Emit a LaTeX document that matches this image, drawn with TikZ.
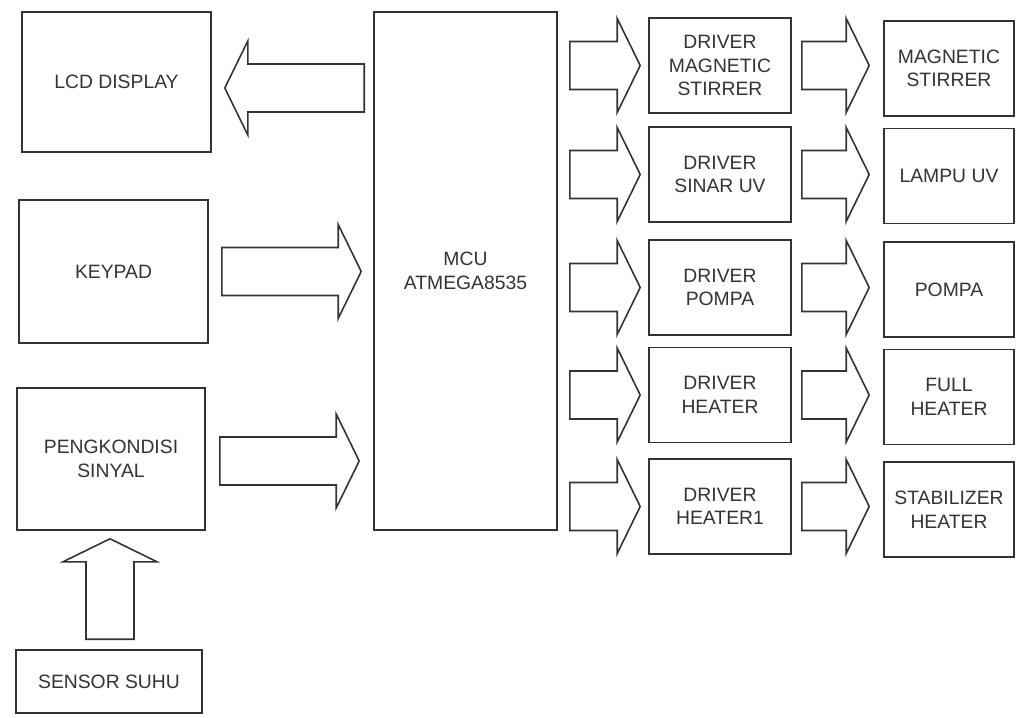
\documentclass[tikz,border=0pt]{standalone}
\usepackage{fontspec}
\setmainfont{Liberation Sans}
\usetikzlibrary{calc}
\definecolor{ink}{HTML}{333333}
\tikzset{
  % plain outlined block, text centred
  unit/.style  = {rectangle, draw=ink, line width=0.9pt, align=center, inner sep=3pt,
                  font=\fontsize{11}{13.4}\selectfont, text=ink},
  drv/.style   = {unit, minimum width=2.84cm, minimum height=1.90cm},
  dev/.style   = {unit, minimum width=2.60cm, minimum height=1.90cm},
  hollow/.style = {draw=ink, line width=0.9pt, line join=miter},
}
% outlined block arrow from #1 (tail) to #2 (tip)
\newcommand{\hollowarrow}[2]{%
  \draw[hollow] let \p1=#1, \p2=#2, \n1={atan2(\y2-\y1,\x2-\x1)},
      \n2={veclen(\x2-\x1,\y2-\y1)} in
    [shift={(\p1)}, rotate=\n1]
    (0pt,-0.48cm) -- (\n2-0.46cm,-0.48cm) -- (\n2-0.46cm,-0.94cm) -- (\n2,0pt)
    -- (\n2-0.46cm,0.94cm) -- (\n2-0.46cm,0.48cm) -- (0pt,0.48cm) -- cycle;}

\begin{document}
\begin{tikzpicture}[x=1cm,y=1cm]
\useasboundingbox (0,0) rectangle (20.32,14.34);
% left column
\node[unit, minimum width=3.78cm, minimum height=2.80cm] (lcd) at (2.33,12.70) {LCD DISPLAY};
\node[unit, minimum width=3.78cm, minimum height=2.86cm] (keypad) at (2.27,8.91) {KEYPAD};
\node[unit, minimum width=3.76cm, minimum height=2.84cm] (pengk) at (2.22,5.16) {PENGKONDISI\\SINYAL};
\node[unit, minimum width=3.72cm, minimum height=1.26cm] (sensor) at (2.18,0.71) {SENSOR SUHU};
% controller
\node[unit, minimum width=3.66cm, minimum height=10.36cm] (mcu) at (9.31,8.92) {MCU\\ATMEGA8535};
% drivers and loads
\foreach \n/\y/\txt in {drva/13.03/{DRIVER\\MAGNETIC\\STIRRER}, drvb/10.85/{DRIVER\\SINAR UV},
                        drvc/8.59/{DRIVER\\POMPA}, drvd/6.44/{DRIVER\\HEATER}, drve/4.21/{DRIVER\\HEATER1}}
  \node[drv] (\n) at (14.40,\y) {\txt};
\foreach \n/\y/\txt in {outa/12.97/{MAGNETIC\\STIRRER}, outb/10.82/{LAMPU UV},
                        outc/8.55/{POMPA}, outd/6.40/{FULL\\HEATER}, oute/4.15/{STABILIZER\\HEATER}}
  \node[dev] (\n) at (18.98,\y) {\txt};
% arrows
\hollowarrow{($(mcu.west|-lcd.east)+(-0.18,-0.12)$)}{($(lcd.east)+(0.26,-0.12)$)}
\hollowarrow{($(keypad.east)+(0.26,0)$)}{($(mcu.west|-keypad.east)+(-0.24,0)$)}
\hollowarrow{($(pengk.east)+(0.28,-0.04)$)}{($(mcu.west|-pengk.east)+(-0.28,-0.04)$)}
\hollowarrow{($(sensor.north)+(0.02,0.2)$)}{($(sensor.north|-pengk.south)+(0.02,-0.16)$)}
\foreach \d/\o in {drva/outa, drvb/outb, drvc/outc, drvd/outd, drve/oute} {
  \hollowarrow{($(mcu.east|-\d.west)+(0.24,0)$)}{($(\d.west)+(-0.16,0)$)}
  \hollowarrow{($(\d.east)+(0.2,0)$)}{($(\d.east-|\o.west)+(-0.28,0)$)}
}
\end{tikzpicture}
\end{document}
